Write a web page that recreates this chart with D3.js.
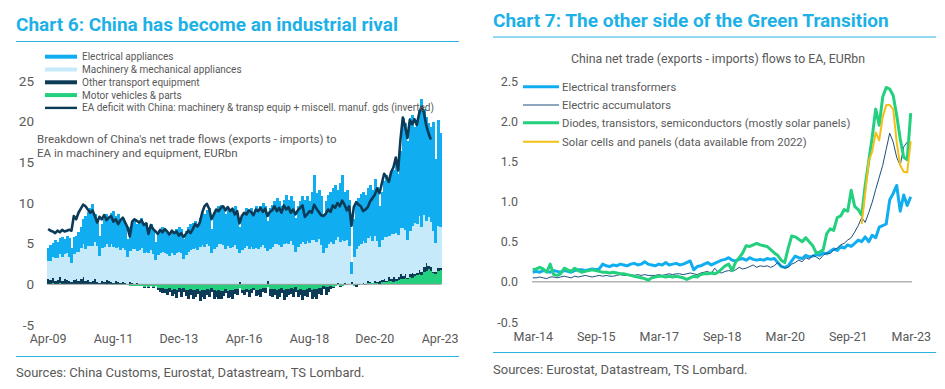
<!DOCTYPE html>
<meta charset="utf-8">
<style>
  body { margin: 0; background: #fff; }
  svg { display: block; font-family: Roboto, "Noto Sans", sans-serif; }
  .title { font-weight: bold; fill: #1db1e7; font-size: 19px; }
  .rule { stroke: #2ab2e4; stroke-width: 1; }
  .note { fill: #595959; }
  .series rect { shape-rendering: crispEdges; }
  .axis path, .axis line { display: none; }
  .axis text { fill: #595959; font-family: Roboto, "Noto Sans", sans-serif; }
</style>
<body>
<script src="https://cdn.jsdelivr.net/npm/d3@7"></script>
<script>
// ---------- Chart 6 data: monthly, Apr-09 .. Apr-23 (EURbn) ----------
var electrical = [
  1.6, 1.9, 1.7, 2.2, 2.0, 1.9, 2.4, 1.9, 2.2,
  2.3, 1.8, 2.1, 2.0, 2.5, 2.5, 3.1, 4.1, 4.1, 4.7, 5.2, 3.4,
  3.3, 2.5, 3.0, 3.4, 3.6, 3.6, 3.9, 4.4, 3.9, 4.0, 3.6, 3.7,
  3.4, 2.3, 2.9, 3.3, 3.6, 3.3, 3.6, 3.7, 3.5, 3.6, 3.2, 3.2,
  3.1, 2.2, 2.8, 2.8, 3.0, 2.7, 2.7, 2.5, 2.8, 2.6, 2.9, 3.0,
  3.0, 2.5, 3.0, 3.0, 3.2, 3.3, 3.3, 3.2, 3.6, 4.0, 4.0, 4.3,
  4.7, 2.9, 4.4, 4.6, 4.7, 4.8, 4.6, 4.2, 4.7, 4.5, 4.6, 4.8,
  4.4, 3.1, 4.2, 4.3, 4.7, 4.6, 4.8, 4.5, 5.1, 4.8, 5.0, 5.2,
  5.1, 3.7, 5.0, 5.2, 5.3, 5.6, 5.4, 5.0, 5.5, 5.9, 5.4, 5.5,
  5.4, 4.2, 5.0, 5.3, 5.6, 5.4, 5.5, 5.1, 5.9, 8.0, 6.0, 6.0,
  6.0, 4.8, 5.7, 6.1, 6.2, 6.8, 6.7, 5.8, 7.2, 7.9, 6.1, 6.2,
  5.7, 1.4, 4.6, 5.7, 5.9, 6.1, 6.1, 5.9, 6.1, 6.3, 6.3, 7.0,
  6.7, 5.0, 6.0, 6.8, 7.6, 6.8, 7.4, 7.8, 8.7, 7.5, 9.5, 13.5,
  13.1, 12.2, 13.8, 13.6, 11.9, 12.8, 13.0, 15.8, 13.1, 12.8, 11.5, 11.7,
  13.5, 10.3, 13.0, 11.6
];
var machinery = [
  2.3, 2.4, 2.6, 2.8, 2.7, 2.9, 3.0, 3.1, 3.3,
  3.0, 2.4, 3.2, 3.4, 3.6, 3.8, 4.0, 3.9, 4.2, 4.4, 4.3, 4.6,
  4.4, 3.3, 4.0, 4.3, 4.5, 4.2, 4.6, 4.4, 4.1, 4.3, 4.0, 4.2,
  4.0, 3.2, 3.8, 4.1, 4.3, 3.9, 4.2, 4.4, 3.9, 4.0, 3.8, 4.1,
  3.7, 3.0, 3.6, 3.8, 4.0, 3.9, 3.7, 3.5, 3.8, 3.6, 3.9, 4.0,
  3.8, 3.1, 3.6, 4.0, 4.2, 4.3, 4.5, 4.2, 4.6, 4.8, 4.6, 4.9,
  4.7, 3.9, 4.4, 4.6, 4.9, 5.0, 4.8, 4.4, 4.7, 4.5, 4.6, 4.8,
  4.4, 3.6, 4.2, 4.5, 4.7, 4.4, 4.6, 4.3, 4.5, 4.4, 4.6, 4.8,
  4.5, 3.7, 4.4, 4.6, 4.9, 5.0, 4.8, 4.6, 4.9, 5.1, 5.0, 5.3,
  4.8, 4.0, 4.6, 4.9, 5.2, 5.0, 5.3, 5.1, 5.5, 5.4, 5.2, 5.6,
  4.8, 3.8, 4.5, 4.9, 5.2, 5.0, 5.4, 5.6, 5.2, 5.5, 5.1, 5.3,
  4.6, 1.0, 3.4, 4.3, 4.7, 4.9, 5.1, 5.0, 5.4, 5.6, 5.2, 5.6,
  5.0, 4.2, 4.9, 5.2, 5.4, 5.1, 5.6, 5.3, 5.7, 5.2, 5.6, 5.9,
  5.4, 4.6, 5.3, 5.8, 6.2, 6.0, 6.6, 5.5, 6.4, 5.2, 6.1, 5.6,
  5.0, 3.6, 5.2, 5.0
];
var otherTransport = [
  0.5, 0.4, 0.6, 0.3, 0.4, 0.7, 0.3, 0.5, 0.4,
  0.3, 0.2, 0.4, 0.5, 0.3, 0.6, 0.9, 0.4, 0.5, 0.3, 0.4, 0.6,
  0.3, 0.2, 0.4, 0.3, 0.5, 0.4, 0.3, 0.2, 0.4, 0.3, 0.2, 0.3,
  0.2, 0.1, 0.3, 0.2, 0.1, 0.2, 0.0, 0.1, -0.1, 0.0, -0.2, 0.1,
  -0.2, 0.0, -0.3, -0.4, -0.6, -0.5, -0.7, -0.4, -0.8, -0.6, -1.0, -0.5,
  -0.9, -0.5, -0.8, -1.1, -0.7, -1.0, -0.9, -0.6, -1.2, -0.9, -1.0, -0.7,
  -0.8, -0.5, -1.0, -0.7, -1.1, -0.9, -0.6, -0.5, -0.9, -0.8, -1.1, -0.6,
  -0.7, 0.3, -0.4, -0.6, -0.3, -0.8, -0.5, -0.2, -0.7, -0.6, -0.9, -0.4,
  -0.6, 0.4, -0.8, -1.0, -0.7, -1.1, -0.9, -0.6, -1.2, -1.0, -0.8, -0.7,
  -1.0, -0.6, -0.9, -0.7, -1.2, -0.8, -1.0, -0.5, -1.1, -0.9, -1.2, -0.7,
  -0.9, -0.4, -1.0, -0.6, -0.3, -0.2, 0.1, 0.2, -0.1, 0.0, 0.2, 0.1,
  0.1, 0.2, 0.0, -0.2, -0.1, 0.0, 0.1, -0.1, 0.2, 0.1, 0.0, 0.2,
  0.1, 0.3, 0.2, 0.4, 0.1, 0.5, 0.3, 0.6, 0.2, 0.4, 0.7, 0.3,
  0.5, 0.2, 0.4, 0.6, 0.3, 0.2, 0.5, 0.4, 0.6, 0.9, 0.3, 0.5,
  0.1, 0.2, 0.3, 0.2
];
var motorVehicles = [
  0.1, 0.1, 0.15, 0.1, 0.1, 0.15, 0.1, 0.1, 0.1,
  0.05, 0.05, 0.1, 0.1, 0.05, 0.1, 0.05, 0.0, 0.05, 0.0, 0.0, 0.0,
  0.0, 0.0, 0.05, 0.0, -0.05, 0.0, -0.05, -0.1, -0.05, -0.1, -0.05, -0.1,
  -0.1, -0.05, -0.15, -0.2, -0.15, -0.2, -0.25, -0.2, -0.3, -0.25, -0.3, -0.2,
  -0.3, -0.2, -0.4, -0.5, -0.45, -0.6, -0.55, -0.5, -0.65, -0.6, -0.7, -0.5,
  -0.6, -0.4, -0.65, -0.7, -0.6, -0.75, -0.7, -0.6, -0.8, -0.7, -0.75, -0.6,
  -0.7, -0.5, -0.75, -0.8, -0.7, -0.85, -0.8, -0.6, -0.8, -0.75, -0.7, -0.6,
  -0.6, -0.4, -0.7, -0.65, -0.6, -0.7, -0.6, -0.5, -0.7, -0.65, -0.6, -0.5,
  -0.5, -0.3, -0.6, -0.55, -0.6, -0.65, -0.6, -0.45, -0.7, -0.6, -0.55, -0.5,
  -0.6, -0.35, -0.65, -0.6, -0.7, -0.65, -0.6, -0.5, -0.7, -0.6, -0.55, -0.45,
  -0.4, -0.2, -0.35, -0.3, -0.25, -0.3, -0.2, -0.1, -0.2, -0.15, -0.1, -0.05,
  0.0, 0.1, -0.2, -0.1, 0.0, 0.05, 0.1, 0.1, 0.15, 0.2, 0.15, 0.2,
  0.2, 0.1, 0.3, 0.25, 0.3, 0.4, 0.35, 0.3, 0.45, 0.5, 0.6, 0.7,
  0.8, 0.6, 0.9, 0.8, 1.0, 1.2, 1.3, 1.1, 1.5, 1.7, 1.9, 1.6,
  1.4, 1.3, 1.7, 1.8
];
// EA deficit with China, inverted: Apr-09 .. Dec-22
var eaDeficit = [
  6.8, 6.6, 6.5, 6.3, 6.6, 6.4, 6.7, 6.5, 6.6,
  6.7, 6.6, 8.4, 8.0, 8.8, 9.3, 9.8, 9.6, 9.2, 8.8, 9.1, 8.4,
  7.6, 8.3, 8.0, 8.5, 7.9, 8.2, 8.4, 7.7, 8.0, 7.4, 7.9, 8.2,
  7.6, 7.0, 5.9, 7.7, 8.0, 7.8, 7.6, 7.9, 7.3, 7.5, 6.2, 7.3,
  6.8, 6.5, 6.2, 6.7, 6.4, 6.8, 6.5, 6.1, 6.6, 6.3, 6.5, 6.0,
  6.3, 5.8, 6.2, 6.6, 6.3, 6.8, 7.4, 7.1, 7.6, 8.8, 9.6, 9.9,
  9.3, 8.0, 8.6, 9.2, 9.0, 9.4, 9.6, 9.1, 9.5, 9.0, 9.3, 8.6,
  9.0, 7.5, 8.4, 8.8, 8.6, 9.1, 8.9, 8.5, 9.2, 9.0, 9.4, 8.9,
  9.3, 8.4, 8.9, 9.1, 9.6, 9.0, 9.4, 8.8, 9.7, 9.2, 9.5, 8.8,
  9.2, 8.6, 9.1, 9.4, 9.7, 8.3, 8.6, 9.0, 8.8, 9.8, 9.3, 8.9,
  8.5, 8.4, 8.7, 9.2, 8.9, 9.7, 9.4, 10.0, 9.6, 10.3, 9.8, 9.1,
  9.6, 7.2, 9.5, 10.1, 9.8, 9.6, 9.0, 9.2, 9.5, 10.2, 10.6, 11.0,
  11.8, 11.2, 12.4, 13.6, 13.2, 12.6, 13.8, 14.4, 15.6, 14.0, 17.8, 20.5,
  19.4, 18.0, 20.2, 19.7, 20.3, 19.6, 21.0, 21.8, 21.2, 19.6, 18.6, 17.8
];
var xTicks6 = ["Apr-09", "Aug-11", "Dec-13", "Apr-16", "Aug-18", "Dec-20", "Apr-23"];
var yTicks6 = [-5, 0, 5, 10, 15, 20, 25];
var legend6 = [
  "Electrical appliances",
  "Machinery & mechanical appliances",
  "Other transport equipment",
  "Motor vehicles & parts",
  "EA deficit with China: machinery & transp equip + miscell. manuf. gds (inverted)"
];

// ---------- Chart 7 data: monthly, Mar-14 .. Mar-23 (EURbn) ----------
var transformers = [
  0.12, 0.13, 0.12, 0.14, 0.13, 0.12, 0.14, 0.13, 0.12, 0.14,
  0.13, 0.12, 0.14, 0.15, 0.15, 0.14, 0.15, 0.16, 0.15, 0.16, 0.22, 0.2,
  0.19, 0.21, 0.2, 0.22, 0.21, 0.2, 0.22, 0.23, 0.21, 0.22, 0.25, 0.22,
  0.21, 0.2, 0.22, 0.21, 0.24, 0.21, 0.22, 0.23, 0.21, 0.22, 0.24, 0.26,
  0.15, 0.19, 0.2, 0.22, 0.24, 0.21, 0.23, 0.25, 0.27, 0.28, 0.3, 0.27,
  0.26, 0.28, 0.29, 0.27, 0.3, 0.28, 0.27, 0.28, 0.27, 0.29, 0.28, 0.29,
  0.24, 0.19, 0.18, 0.2, 0.26, 0.32, 0.3, 0.29, 0.33, 0.31, 0.32, 0.34,
  0.33, 0.36, 0.35, 0.38, 0.41, 0.39, 0.44, 0.42, 0.46, 0.44, 0.48, 0.52,
  0.5, 0.56, 0.5, 0.58, 0.55, 0.68, 0.7, 0.72, 1.02, 1.1, 1.2, 0.88,
  1.08, 0.95, 1.06
];
var accumulators = [
  0.05, 0.05, 0.06, 0.05, 0.04, 0.06, 0.06, 0.05, 0.06, 0.07,
  0.06, 0.05, 0.07, 0.06, 0.07, 0.08, 0.07, 0.06, 0.07, 0.08, 0.07, 0.08,
  0.07, 0.07, 0.08, 0.09, 0.08, 0.08, 0.09, 0.08, 0.09, 0.08, 0.09, 0.08,
  0.08, 0.08, 0.09, 0.08, 0.09, 0.1, 0.09, 0.1, 0.1, 0.09, 0.1, 0.11,
  0.1, 0.09, 0.11, 0.12, 0.13, 0.1, 0.17, 0.12, 0.11, 0.13, 0.14, 0.13,
  0.15, 0.18, 0.16, 0.17, 0.19, 0.21, 0.18, 0.2, 0.19, 0.2, 0.18, 0.2,
  0.24, 0.2, 0.17, 0.18, 0.22, 0.24, 0.27, 0.25, 0.3, 0.28, 0.33, 0.31,
  0.28, 0.33, 0.36, 0.35, 0.4, 0.42, 0.46, 0.48, 0.52, 0.55, 0.62, 0.7,
  0.8, 0.74, 0.86, 0.99, 1.15, 1.3, 1.45, 1.65, 1.85, 1.74, 1.55, 1.45,
  1.68, 1.74, 1.66
];
var diodes = [
  0.15, 0.16, 0.18, 0.16, 0.12, 0.22, 0.09, 0.08, 0.1, 0.17,
  0.15, 0.13, 0.17, 0.14, 0.12, 0.13, 0.14, 0.15, 0.14, 0.13, 0.12, 0.12,
  0.11, 0.12, 0.11, 0.1, 0.1, 0.09, 0.08, 0.07, 0.06, 0.05, 0.04, 0.02,
  0.05, 0.06, 0.07, 0.07, 0.06, 0.07, 0.06, 0.07, 0.06, 0.05, 0.03, 0.05,
  0.07, 0.06, 0.09, 0.1, 0.1, 0.11, 0.1, 0.12, 0.16, 0.2, 0.22, 0.14,
  0.25, 0.3, 0.36, 0.45, 0.44, 0.46, 0.48, 0.46, 0.45, 0.44, 0.4, 0.36,
  0.33, 0.27, 0.24, 0.42, 0.57, 0.56, 0.53, 0.5, 0.55, 0.5, 0.45, 0.36,
  0.37, 0.4, 0.6, 0.66, 0.64, 0.8, 0.82, 0.9, 0.88, 1.14, 0.94, 0.9,
  0.83, 1.2, 1.5, 1.8, 2.15, 1.95, 2.3, 2.42, 2.4, 2.32, 2.07, 1.78,
  1.55, 1.52, 2.1
];
// solar cells and panels: Jan-22 .. Mar-23 only
var solar = [0.72, 1.1, 1.5, 1.62, 1.86, 1.76, 2.05, 2.2, 2.2, 2.15, 1.74, 1.45, 1.37, 1.36, 1.75];
var xTicks7 = ["Mar-14", "Sep-15", "Mar-17", "Sep-18", "Mar-20", "Sep-21", "Mar-23"];
var yTicks7 = [-0.5, 0, 0.5, 1.0, 1.5, 2.0, 2.5];
var legend7 = [
  "Electrical transformers",
  "Electric accumulators",
  "Diodes, transistors, semiconductors (mostly solar panels)",
  "Solar cells and panels (data available from 2022)"
];

var fmtMonth = d3.timeFormat("%b-%y");
var BLUE = "#10aef0", LIGHT = "#c6eafa", NAVY = "#0c3b58", GREEN = "#22d07e", YELLOW = "#f5bf17";

var svg = d3.select("body").append("svg")
  .attr("width", 945)
  .attr("height", 389);

svg.append("rect").attr("width", 945).attr("height", 389).attr("fill", "#fff");

// ================= Chart 6 =================
var g6 = svg.append("g");

g6.append("text").attr("class", "title").attr("x", 16).attr("y", 31)
  .text("Chart 6: China has become an industrial rival");
g6.append("line").attr("class", "rule").attr("x1", 16).attr("x2", 459).attr("y1", 41.5).attr("y2", 41.5);
g6.append("line").attr("class", "rule").attr("x1", 16).attr("x2", 459).attr("y1", 356.5).attr("y2", 356.5);
g6.append("text").attr("class", "note").attr("x", 16).attr("y", 377).style("font-size", "13px")
  .text("Sources: China Customs, Eurostat, Datastream, TS Lombard.");

var months6 = d3.timeMonth.range(new Date(2009, 3, 1), new Date(2023, 4, 1));
var table6 = months6.map(function (m, i) {
  return { i: i, month: m, electrical: electrical[i], machinery: machinery[i],
           transport: otherTransport[i], motor: motorVehicles[i] };
});

var x6 = d3.scaleBand().domain(d3.range(months6.length)).range([47, 441.3]).padding(0);
var y6 = d3.scaleLinear().domain([-5, 25]).range([325, 81]);

var stack6 = d3.stack()
  .keys(["motor", "transport", "machinery", "electrical"])
  .offset(d3.stackOffsetDiverging);
var color6 = { electrical: BLUE, machinery: LIGHT, transport: NAVY, motor: GREEN };

g6.selectAll(".series")
  .data(stack6(table6))
  .enter().append("g")
  .attr("class", "series")
  .attr("fill", function (s) { return color6[s.key]; })
  .selectAll("rect")
  .data(function (s) { return s; })
  .enter().append("rect")
  .attr("x", function (d) { return x6(d.data.i); })
  .attr("width", x6.bandwidth() + 0.6)
  .attr("y", function (d) { return y6(Math.max(d[0], d[1])); })
  .attr("height", function (d) { return Math.abs(y6(d[0]) - y6(d[1])); });

g6.append("line")
  .attr("x1", 47).attr("x2", 441.3)
  .attr("y1", y6(0)).attr("y2", y6(0))
  .attr("stroke", "#a0a0a0").attr("stroke-width", 1);

g6.append("path")
  .datum(eaDeficit)
  .attr("fill", "none")
  .attr("stroke", NAVY)
  .attr("stroke-width", 2.6)
  .attr("stroke-linejoin", "round")
  .attr("d", d3.line()
    .x(function (d, i) { return x6(i) + x6.bandwidth() / 2; })
    .y(function (d) { return y6(d); }));

// y axis
var yAxis6 = d3.axisLeft(y6).tickValues(yTicks6).tickSize(0).tickPadding(0)
  .tickFormat(function (d) { return String(d); });
g6.append("g").attr("class", "axis").attr("transform", "translate(34,0)").call(yAxis6)
  .selectAll("text").style("font-size", "13.5px");

// x axis (labels clipped at the panel edge)
svg.append("clipPath").attr("id", "clip6").append("rect")
  .attr("x", 0).attr("y", 0).attr("width", 458.5).attr("height", 389);
var tickIdx6 = xTicks6.map(function (lab) {
  return months6.findIndex(function (m) { return fmtMonth(m) === lab; });
});
var xAxis6 = d3.axisBottom(x6).tickValues(tickIdx6).tickSize(0).tickPadding(0)
  .tickFormat(function (i) { return xTicks6[tickIdx6.indexOf(i)]; });
g6.append("g").attr("class", "axis").attr("clip-path", "url(#clip6)")
  .attr("transform", "translate(0,334)").call(xAxis6)
  .selectAll("text").style("font-size", "12.5px");

// legend
var leg6 = g6.append("g").selectAll("g")
  .data(legend6)
  .enter().append("g")
  .attr("transform", function (d, i) { return "translate(45," + (56.7 + i * 12.8) + ")"; });
leg6.append("rect")
  .attr("x", 0).attr("width", 32)
  .attr("y", function (d, i) { return i < 4 ? -2 : -1.2; })
  .attr("height", function (d, i) { return i < 4 ? 4 : 2.4; })
  .attr("fill", function (d, i) { return [BLUE, LIGHT, NAVY, GREEN, NAVY][i]; });
leg6.append("text").attr("class", "note")
  .attr("x", 37).attr("dy", "0.35em").style("font-size", "10px")
  .text(function (d) { return d; });

g6.append("text").attr("class", "note").style("font-size", "11.5px")
  .selectAll("tspan")
  .data(["Breakdown of China's net trade flows (exports - imports) to", "EA in machinery and equipment, EURbn"])
  .enter().append("tspan")
  .attr("x", 37).attr("y", function (d, i) { return 143 + i * 14; })
  .text(function (d) { return d; });

// ================= Chart 7 =================
var g7 = svg.append("g");

g7.append("text").attr("class", "title").attr("x", 493).attr("y", 27)
  .text("Chart 7: The other side of the Green Transition");
g7.append("line").attr("class", "rule").attr("x1", 493).attr("x2", 936).attr("y1", 37).attr("y2", 37);
g7.append("line").attr("class", "rule").attr("x1", 493).attr("x2", 936).attr("y1", 352.5).attr("y2", 352.5);
g7.append("text").attr("class", "note").attr("x", 493).attr("y", 374).style("font-size", "13px")
  .text("Sources: Eurostat, Datastream, TS Lombard.");
g7.append("text").attr("class", "note").attr("x", 718).attr("y", 62.5)
  .attr("text-anchor", "middle").style("font-size", "12.3px")
  .text("China net trade (exports - imports) flows to EA, EURbn");

var months7 = d3.timeMonth.range(new Date(2014, 2, 1), new Date(2023, 3, 1));
var x7 = d3.scalePoint().domain(d3.range(months7.length)).range([532.7, 910.7]);
var y7 = d3.scaleLinear().domain([-0.5, 2.5]).range([322, 81]);

g7.append("line")
  .attr("x1", 532).attr("x2", 912)
  .attr("y1", y7(0)).attr("y2", y7(0))
  .attr("stroke", "#8c8c8c").attr("stroke-width", 1);

var line7 = d3.line()
  .x(function (d) { return x7(d.i); })
  .y(function (d) { return y7(d.v); });
function pts(arr, offset) {
  return arr.map(function (v, k) { return { i: k + offset, v: v }; });
}
var solarStart = months7.findIndex(function (m) { return fmtMonth(m) === "Jan-22"; });

var series7 = [
  { values: pts(transformers, 0), color: BLUE, width: 3 },
  { values: pts(accumulators, 0), color: "#1d4f7c", width: 1 },
  { values: pts(diodes, 0), color: GREEN, width: 3 },
  { values: pts(solar, solarStart), color: YELLOW, width: 2 }
];
g7.selectAll(".ln")
  .data(series7)
  .enter().append("path")
  .attr("class", "ln")
  .attr("fill", "none")
  .attr("stroke-linejoin", "round")
  .attr("stroke", function (s) { return s.color; })
  .attr("stroke-width", function (s) { return s.width; })
  .attr("d", function (s) { return line7(s.values); });

var yAxis7 = d3.axisLeft(y7).tickValues(yTicks7).tickSize(0).tickPadding(0)
  .tickFormat(function (d) { return d.toFixed(1); });
g7.append("g").attr("class", "axis").attr("transform", "translate(518,0)").call(yAxis7)
  .selectAll("text").style("font-size", "12.5px");

var tickIdx7 = xTicks7.map(function (lab) {
  return months7.findIndex(function (m) { return fmtMonth(m) === lab; });
});
var xAxis7 = d3.axisBottom(x7).tickValues(tickIdx7).tickSize(0).tickPadding(0)
  .tickFormat(function (i) { return xTicks7[tickIdx7.indexOf(i)]; });
g7.append("g").attr("class", "axis").attr("transform", "translate(0,332.5)").call(xAxis7)
  .selectAll("text").style("font-size", "12.5px");

var leg7 = g7.append("g").selectAll("g")
  .data(legend7)
  .enter().append("g")
  .attr("transform", function (d, i) { return "translate(523," + [86.7, 105, 122.7, 141.7][i] + ")"; });
leg7.append("line")
  .attr("x1", 0).attr("x2", 36)
  .attr("stroke", function (d, i) { return series7[i].color; })
  .attr("stroke-width", function (d, i) { return series7[i].width; });
leg7.append("text").attr("class", "note")
  .attr("x", 39).attr("dy", "0.35em").style("font-size", "11.3px")
  .text(function (d) { return d; });
</script>
</body>
